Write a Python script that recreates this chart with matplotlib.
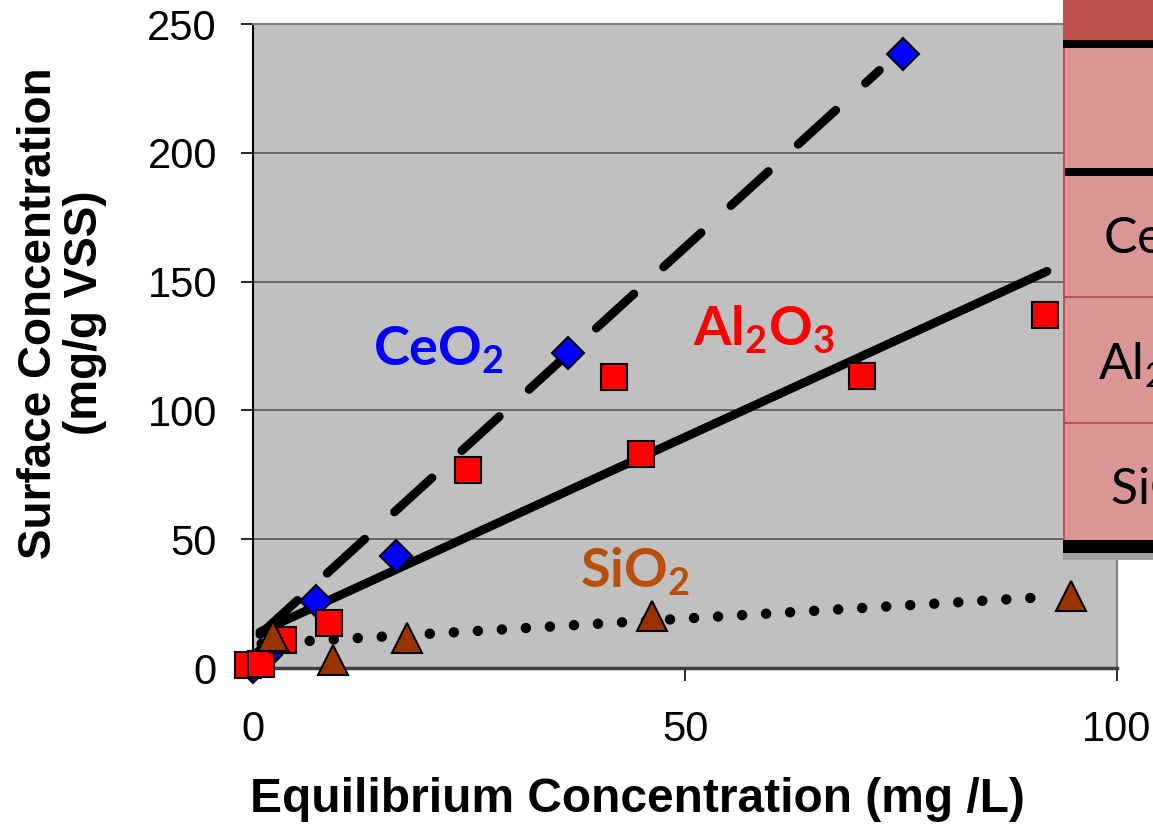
import matplotlib
matplotlib.use('Agg')
import matplotlib.pyplot as plt
from matplotlib.patches import Rectangle

# measured points
ce_x = [0.0, 1.5, 7.3, 16.5, 36.5, 75.2]
ce_y = [0.5, 5.0, 26.0, 43.5, 122.3, 238.4]
al_x = [-0.6, 0.9, 3.5, 8.8, 24.9, 41.8, 44.9, 70.5, 91.7]
al_y = [1.0, 1.5, 11.0, 17.5, 77.0, 113.0, 83.0, 113.4, 137.0]
si_x = [2.3, 9.3, 17.8, 46.2, 94.7]
si_y = [12.5, 3.0, 11.6, 20.0, 28.0]

# trend lines (ends)
ce_fit_x = [0.8, 72.5]
ce_fit_y = [13.0, 232.0]
al_fit_x = [0.8, 91.9]
al_fit_y = [14.0, 154.0]
si_fit_x = [1.0, 92.0]
si_fit_y = [9.4, 27.6]

x_ticks = [0, 50, 100]
y_ticks = [0, 50, 100, 150, 200, 250]
table_rows = ['CeO$_2$', 'Al$_2$O$_3$', 'SiO$_2$']

plt.rcParams['font.family'] = 'Liberation Sans'
plt.rcParams['mathtext.fontset'] = 'custom'
plt.rcParams['mathtext.rm'] = 'Lato'
plt.rcParams['mathtext.bf'] = 'Lato:bold'

fig = plt.figure(figsize=(11.53, 8.24), dpi=100)
ax = fig.add_axes([253 / 1153, 156 / 824, 864 / 1153, 644 / 824])
ax.set_facecolor('#C0C0C0')
ax.set_xlim(0, 100)
ax.set_ylim(0, 250)
ax.set_xticks(x_ticks)
ax.set_yticks(y_ticks)
ax.yaxis.grid(True, color='#555555', lw=1.2)
ax.set_axisbelow(True)
ax.tick_params(axis='both', labelsize=30, length=9, width=1.2, direction='out')
ax.tick_params(axis='y', pad=17)
ax.tick_params(axis='x', pad=21)
for s in ['top', 'right']:
    ax.spines[s].set_color('#808080')
    ax.spines[s].set_linewidth(1.5)
ax.spines['left'].set_color('black')
ax.spines['left'].set_linewidth(1.5)
ax.spines['bottom'].set_color('#404040')
ax.spines['bottom'].set_linewidth(2.5)

lw = 6.3
ax.plot(ce_fit_x, ce_fit_y, color='black', lw=lw, dashes=(5.8, 4.6),
        dash_capstyle='round', zorder=3)
ax.plot(al_fit_x, al_fit_y, color='black', lw=lw, solid_capstyle='round', zorder=3)
ax.plot(si_fit_x, si_fit_y, color='black', lw=7.5, dashes=(0.01, 2.3),
        dash_capstyle='round', zorder=3)

ax.plot(ce_x, ce_y, 'D', ms=16, mfc='#0000FF', mec='black', mew=1.5,
        clip_on=False, zorder=4)
ax.plot(al_x, al_y, 's', ms=19, mfc='#FF0000', mec='black', mew=1.5,
        clip_on=False, zorder=5)
ax.plot(si_x, si_y, '^', ms=22, mfc='#993300', mec='black', mew=1.5,
        clip_on=False, zorder=6)

ax.text(13.9, 117.6, r'CeO$_\mathbf{2}$', color='#0000FF', fontsize=39,
        family='Lato', fontweight='bold', va='baseline')
ax.text(50.9, 125.4, r'Al$_\mathbf{2}$O$_\mathbf{3}$', color='#FF0000', fontsize=39,
        family='Lato', fontweight='bold', va='baseline')
ax.text(37.8, 31.4, r'SiO$_\mathbf{2}$', color='#B8500C', fontsize=39,
        family='Lato', fontweight='bold', va='baseline')

fig.text(250 / 1153, 12 / 824, 'Equilibrium Concentration (mg /L)',
         fontweight='bold', fontsize=34.5, va='baseline', ha='left')
fig.text(62 / 1153, 1 - 313 / 824, 'Surface Concentration\n(mg/g VSS)',
         fontweight='bold', fontsize=33, rotation=90,
         ha='center', va='center', multialignment='center', linespacing=1.05)

# table overlapping the right edge (cut off in the original)
W, H = 1153.0, 824.0
tx = 1063 / W


def band(y0, y1, color):
    fig.patches.append(Rectangle((tx, 1 - y1 / H), 1 - tx, (y1 - y0) / H,
                                 transform=fig.transFigure, facecolor=color,
                                 edgecolor='none', zorder=10))


band(553, 560, '#A0A0A0')
band(0, 40, '#C0504D')
band(40, 48, 'black')
band(48, 168, '#D99694')
band(168, 176, 'black')
band(176, 540, '#D99694')
band(540, 553, 'black')
for yy in [297, 423]:
    band(yy - 1, yy + 1, '#C0504D')
fig.patches.append(Rectangle((tx, 1 - 540 / H), 2 / W, 492 / H,
                             transform=fig.transFigure, facecolor='#C0504D',
                             edgecolor='none', zorder=11))

row_y = [240, 365, 490]
row_x = [1103, 1098, 1110]
for lab, yy, xx in zip(table_rows, row_y, row_x):
    fig.text(xx / W, 1 - yy / H, lab, family='Lato', fontsize=36,
             va='center', ha='left', zorder=12)

fig.savefig('out.png', dpi=100)
